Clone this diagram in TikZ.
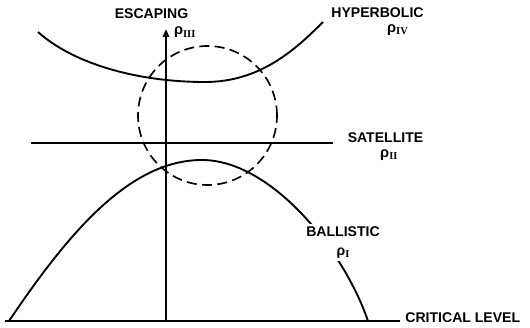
\documentclass[tikz,border=0pt]{standalone}
\usepackage{fontspec}
\setmainfont{Liberation Sans}
\newfontfamily\numfont{Liberation Serif}
\usetikzlibrary{positioning,arrows.meta}
\tikzset{
regime/.style={font=\fontsize{12}{16}\selectfont\bfseries,inner sep=1pt},
rholab/.style={font=\fontsize{12.5}{16}\selectfont\bfseries,inner sep=1pt},
orbit/.style={line width=1.6pt},
levelline/.style={line width=2pt},
axisline/.style={line width=1.6pt,-{Triangle[length=2.4mm,width=1.9mm]}},
zone/.style={line width=1.4pt,dash pattern=on 3mm off 1.6mm}
}
\newcommand{\rhosub}[1]{ρ\raisebox{-0.35ex}{\fontsize{9}{9}\selectfont\numfont\bfseries #1}}

\begin{document}
\begin{tikzpicture}[x=3mm,y=3mm]
\useasboundingbox (-16.6,-0.6) rectangle (36.4,32.1);
% critical level and vertical axis
\coordinate (gl) at (-16.1,0);
\coordinate (gr) at (23.4,0);
\coordinate (o) at (0,0);
\coordinate (top) at (0,29.2);
\draw[levelline] (gl) -- (gr);
\node[regime,anchor=west] (crit) at (23.8,0.3) {CRITICAL LEVEL};
\draw[axisline] (o) -- (top);
\node[regime] (esc) at (-1.45,30.7) {ESCAPING};
\node[rholab,right=2mm of top,yshift=-1mm] (r3) {\rhosub{III}};
% hyperbolic
\draw[orbit] (-12.8,28.9) .. controls (-9.1,25.6) and (-2.6,23.9) .. (3.9,23.9)
  .. controls (9.4,23.9) and (12.9,27.1) .. (15.7,29.9);
\node[regime] (hyp) at (21.15,30.8) {HYPERBOLIC};
\node[rholab,below=1mm of hyp,xshift=6mm] (r4) {\rhosub{IV}};
% satellite
\coordinate (sl) at (-13.5,17.8);
\coordinate (sr) at (16.7,17.8);
\draw[orbit] (sl) -- (sr);
\node[regime] (sat) at (21.95,18.3) {SATELLITE};
\node[rholab,below=1mm of sat,xshift=1mm] (r2) {\rhosub{II}};
% region of interest
\draw[zone] (4.15,20.55) circle[radius=6.95];
% ballistic
\draw[orbit] (-15.7,0) .. controls (-9.7,8.9) and (-3.6,16.1) .. (3.6,16.1)
  .. controls (10.4,16.1) and (17.7,7.3) .. (20.2,0);
\node[regime,fill=white,align=center,inner sep=2pt] (bal) at (17.7,7.85) {BALLISTIC\\\rhosub{I}};
\end{tikzpicture}
\end{document}
